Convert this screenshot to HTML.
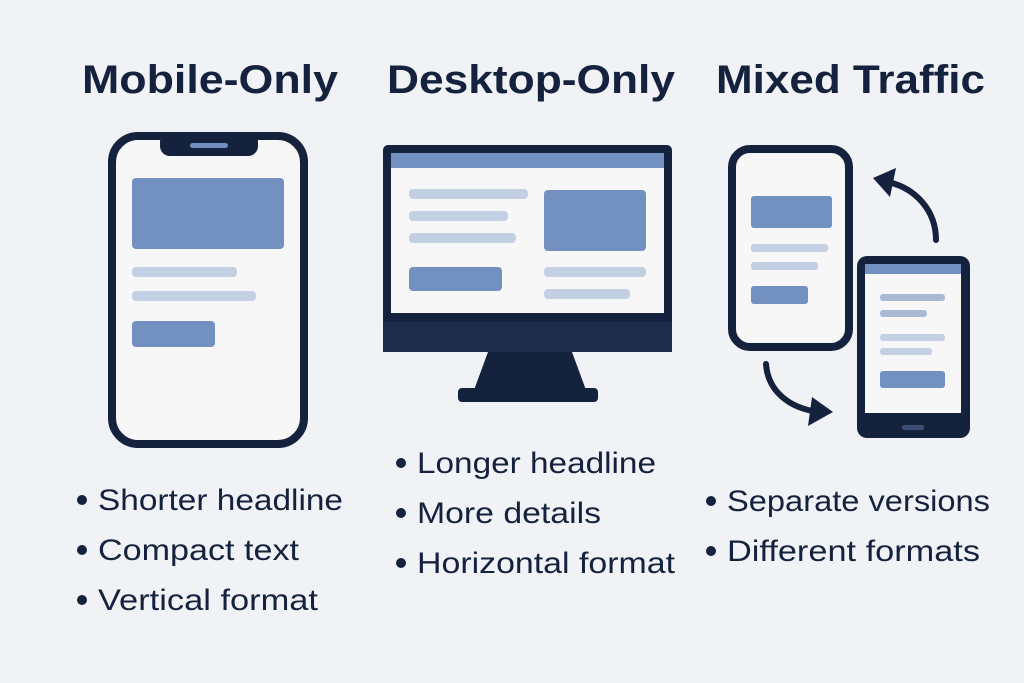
<!DOCTYPE html>
<html><head><meta charset="utf-8"><style>
html,body{margin:0;padding:0;background:#f1f2f5}
svg{display:block}
text{font-family:"Liberation Sans",sans-serif;fill:#14223d}
.t{font-weight:bold;font-size:40px}
.b{font-size:30px}
</style></head><body>
<svg width="1024" height="683" viewBox="0 0 1024 683">
<rect width="1024" height="683" fill="#f1f2f5"/>
<text class="t" x="82" y="93" textLength="256" lengthAdjust="spacingAndGlyphs">Mobile-Only</text>
<text class="t" x="387" y="93" textLength="288" lengthAdjust="spacingAndGlyphs">Desktop-Only</text>
<text class="t" x="716" y="93" textLength="269" lengthAdjust="spacingAndGlyphs">Mixed Traffic</text>

<rect x="112" y="136" width="192" height="308" rx="26" fill="#f7f7f8" stroke="#14223d" stroke-width="8"/>
<rect x="160" y="132" width="98" height="24" rx="10" fill="#14223d"/>
<rect x="190" y="143" width="38" height="5" rx="2.5" fill="#6f8fc0"/>
<rect x="132" y="178" width="152" height="71" rx="4" fill="#7391c0"/>
<rect x="132" y="267" width="105" height="10" rx="4" fill="#c3cfe2"/>
<rect x="132" y="291" width="124" height="10" rx="4" fill="#c3cfe2"/>
<rect x="132" y="321" width="83" height="26" rx="4" fill="#7391c0"/>

<rect x="383" y="145" width="289" height="207" rx="5" fill="#14223d"/>
<rect x="391" y="153" width="273" height="160" fill="#f7f7f8"/>
<rect x="391" y="153" width="273" height="15" fill="#7391c0"/>
<rect x="383" y="322" width="289" height="30" fill="#1c2c4a"/>
<polygon points="488,352 572,352 586,390 474,390" fill="#14223d"/>
<rect x="458" y="388" width="140" height="14" rx="4" fill="#14223d"/>
<rect x="409" y="189" width="119" height="10" rx="4" fill="#c3cfe2"/>
<rect x="409" y="211" width="99" height="10" rx="4" fill="#c3cfe2"/>
<rect x="409" y="233" width="107" height="10" rx="4" fill="#c3cfe2"/>
<rect x="544" y="190" width="102" height="61" rx="4" fill="#7391c0"/>
<rect x="409" y="267" width="93" height="24" rx="4" fill="#7391c0"/>
<rect x="544" y="267" width="102" height="10" rx="4" fill="#c3cfe2"/>
<rect x="544" y="289" width="86" height="10" rx="4" fill="#c3cfe2"/>

<rect x="732" y="149" width="117" height="198" rx="18" fill="#f7f7f8" stroke="#14223d" stroke-width="8"/>
<rect x="751" y="196" width="81" height="32" rx="3" fill="#7391c0"/>
<rect x="751" y="244" width="77" height="8" rx="3" fill="#c3cfe2"/>
<rect x="751" y="262" width="67" height="8" rx="3" fill="#c3cfe2"/>
<rect x="751" y="286" width="57" height="18" rx="3" fill="#7391c0"/>

<rect x="857" y="256" width="113" height="182" rx="10" fill="#14223d"/>
<rect x="865" y="264" width="96" height="149" fill="#f7f7f8"/>
<rect x="865" y="264" width="96" height="10" fill="#7391c0"/>
<rect x="880" y="294" width="65" height="7" rx="3" fill="#a9bad6"/>
<rect x="880" y="310" width="47" height="7" rx="3" fill="#a9bad6"/>
<rect x="880" y="334" width="65" height="7" rx="3" fill="#c3cfe2"/>
<rect x="880" y="348" width="52" height="7" rx="3" fill="#c3cfe2"/>
<rect x="880" y="371" width="65" height="17" rx="3" fill="#7391c0"/>
<rect x="902" y="425" width="22" height="5" rx="2" fill="#3a4d72"/>

<path d="M936,240 C936,210 915,188 888,182" fill="none" stroke="#14223d" stroke-width="6" stroke-linecap="round"/>
<polygon points="873,178 896,168 890,197" fill="#14223d"/>
<path d="M766,364 C768,392 790,408 818,412" fill="none" stroke="#14223d" stroke-width="6" stroke-linecap="round"/>
<polygon points="833,412 812,397 808,426" fill="#14223d"/>

<circle cx="82" cy="500" r="5" fill="#14223d"/><text class="b" x="98" y="510" textLength="245" lengthAdjust="spacingAndGlyphs">Shorter headline</text>
<circle cx="82" cy="550" r="5" fill="#14223d"/><text class="b" x="98" y="560" textLength="201" lengthAdjust="spacingAndGlyphs">Compact text</text>
<circle cx="82" cy="600" r="5" fill="#14223d"/><text class="b" x="98" y="610" textLength="220" lengthAdjust="spacingAndGlyphs">Vertical format</text>
<circle cx="401" cy="463" r="5" fill="#14223d"/><text class="b" x="417" y="473" textLength="239" lengthAdjust="spacingAndGlyphs">Longer headline</text>
<circle cx="401" cy="513" r="5" fill="#14223d"/><text class="b" x="417" y="523" textLength="184" lengthAdjust="spacingAndGlyphs">More details</text>
<circle cx="401" cy="563" r="5" fill="#14223d"/><text class="b" x="417" y="573" textLength="258" lengthAdjust="spacingAndGlyphs">Horizontal format</text>
<circle cx="711" cy="501" r="5" fill="#14223d"/><text class="b" x="727" y="511" textLength="263" lengthAdjust="spacingAndGlyphs">Separate versions</text>
<circle cx="711" cy="551" r="5" fill="#14223d"/><text class="b" x="727" y="561" textLength="253" lengthAdjust="spacingAndGlyphs">Different formats</text>
</svg>
</body></html>
